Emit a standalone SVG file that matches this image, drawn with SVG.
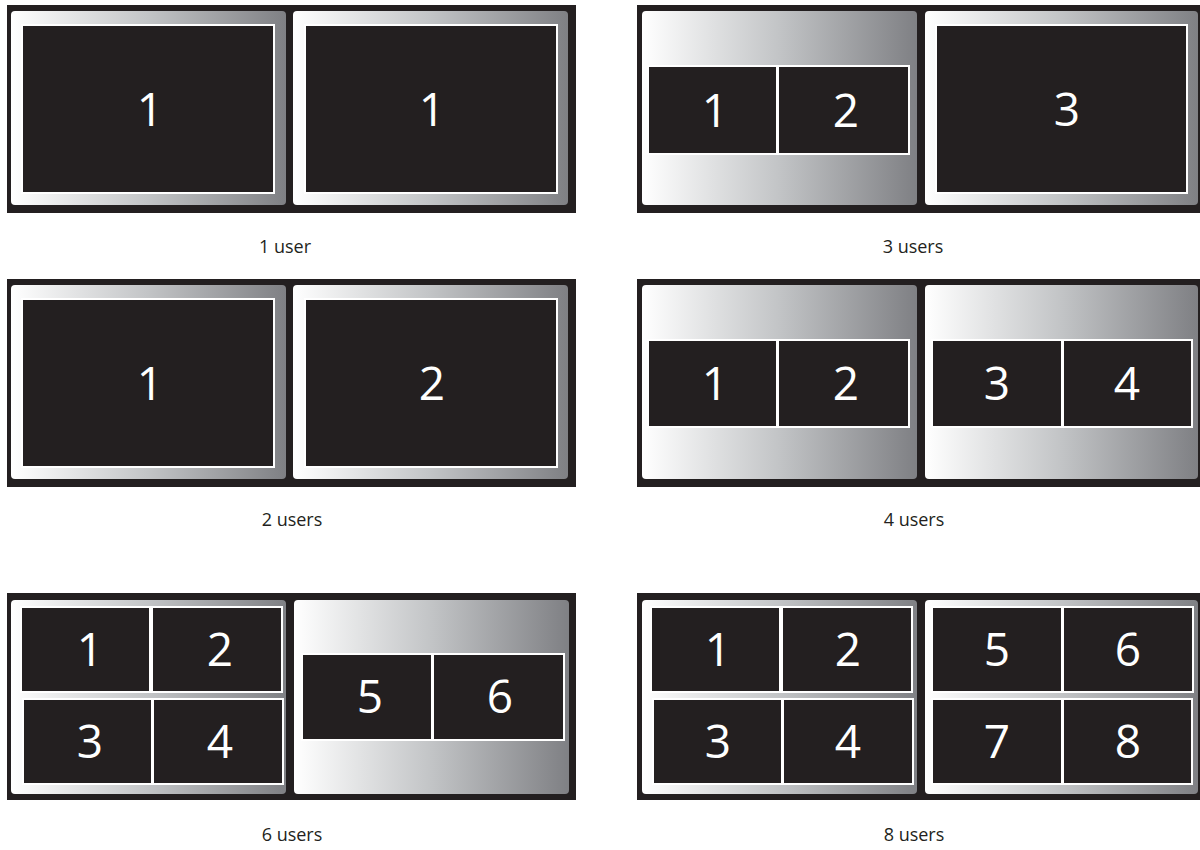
<svg xmlns="http://www.w3.org/2000/svg" width="1200" height="850" viewBox="0 0 1200 850">
<defs>
<linearGradient id="g" x1="0" y1="0" x2="1" y2="0">
<stop offset="0" stop-color="#ffffff"/>
<stop offset="0.5" stop-color="#c2c4c6"/>
<stop offset="1" stop-color="#7f8084"/>
</linearGradient>
<style>
.bg{fill:#231f20}
.mon{fill:url(#g)}
.scr{fill:#231f20;stroke:#ffffff;stroke-width:2}
.num{font-family:"Open Sans","Liberation Sans",sans-serif;font-size:46px;fill:#ffffff;text-anchor:middle}
.lbl{font-family:"Open Sans","Liberation Sans",sans-serif;font-size:18px;fill:#231f20;text-anchor:middle}
</style>
</defs>
<rect width="1200" height="850" fill="#ffffff"/>

<g id="panel-1-user">
<rect class="bg" x="7" y="5" width="569" height="208"/>
<rect class="mon" x="11" y="11" width="275" height="194" rx="4"/>
<rect class="scr" x="22" y="25" width="252" height="168"/>
<text class="num" x="150" y="126">1</text>
<rect class="mon" x="293" y="11" width="275" height="194" rx="4"/>
<rect class="scr" x="305" y="25" width="252" height="168"/>
<text class="num" x="432" y="126">1</text>
<text class="lbl" x="285" y="253">1 user</text>
</g>

<g id="panel-3-users">
<rect class="bg" x="637" y="5" width="563" height="208"/>
<rect class="mon" x="642" y="11" width="275" height="194" rx="4"/>
<rect class="scr" x="648" y="66" width="129" height="88"/>
<rect class="scr" x="778" y="66" width="131" height="88"/>
<text class="num" x="715" y="127">1</text>
<text class="num" x="846" y="127">2</text>
<rect class="mon" x="925" y="11" width="273" height="194" rx="4"/>
<rect class="scr" x="936" y="25" width="251" height="168"/>
<text class="num" x="1067" y="126">3</text>
<text class="lbl" x="913" y="253">3 users</text>
</g>

<g id="panel-2-users">
<rect class="bg" x="7" y="279" width="569" height="208"/>
<rect class="mon" x="11" y="285" width="275" height="194" rx="4"/>
<rect class="scr" x="22" y="299" width="252" height="168"/>
<text class="num" x="150" y="400">1</text>
<rect class="mon" x="293" y="285" width="275" height="194" rx="4"/>
<rect class="scr" x="305" y="299" width="252" height="168"/>
<text class="num" x="432" y="400">2</text>
<text class="lbl" x="292" y="526">2 users</text>
</g>

<g id="panel-4-users">
<rect class="bg" x="637" y="279" width="563" height="208"/>
<rect class="mon" x="642" y="285" width="275" height="194" rx="4"/>
<rect class="scr" x="648" y="340" width="129" height="87"/>
<rect class="scr" x="778" y="340" width="131" height="87"/>
<text class="num" x="715" y="400">1</text>
<text class="num" x="846" y="400">2</text>
<rect class="mon" x="925" y="285" width="273" height="194" rx="4"/>
<rect class="scr" x="932" y="340" width="130" height="87"/>
<rect class="scr" x="1063" y="340" width="129" height="87"/>
<text class="num" x="997" y="400">3</text>
<text class="num" x="1127" y="400">4</text>
<text class="lbl" x="914" y="526">4 users</text>
</g>

<g id="panel-6-users">
<rect class="bg" x="7" y="593" width="569" height="207"/>
<rect class="mon" x="11" y="600" width="275" height="194" rx="4"/>
<rect class="scr" x="21" y="607" width="129" height="85"/>
<rect class="scr" x="152" y="607" width="130" height="85"/>
<rect class="scr" x="23" y="699" width="129" height="85"/>
<rect class="scr" x="153" y="699" width="130" height="85"/>
<text class="num" x="90" y="666">1</text>
<text class="num" x="220" y="666">2</text>
<text class="num" x="90" y="758">3</text>
<text class="num" x="220" y="758">4</text>
<rect class="mon" x="294" y="600" width="275" height="194" rx="4"/>
<rect class="scr" x="302" y="654" width="130" height="86"/>
<rect class="scr" x="433" y="654" width="131" height="86"/>
<text class="num" x="370" y="713">5</text>
<text class="num" x="500" y="713">6</text>
<text class="lbl" x="292" y="841">6 users</text>
</g>

<g id="panel-8-users">
<rect class="bg" x="637" y="593" width="563" height="207"/>
<rect class="mon" x="642" y="600" width="275" height="194" rx="4"/>
<rect class="scr" x="651" y="607" width="129" height="85"/>
<rect class="scr" x="782" y="607" width="130" height="85"/>
<rect class="scr" x="653" y="699" width="129" height="85"/>
<rect class="scr" x="783" y="699" width="130" height="85"/>
<text class="num" x="718" y="666">1</text>
<text class="num" x="848" y="666">2</text>
<text class="num" x="718" y="758">3</text>
<text class="num" x="848" y="758">4</text>
<rect class="mon" x="925" y="600" width="273" height="194" rx="4"/>
<rect class="scr" x="932" y="607" width="130" height="85"/>
<rect class="scr" x="1063" y="607" width="130" height="85"/>
<rect class="scr" x="932" y="699" width="130" height="85"/>
<rect class="scr" x="1063" y="699" width="129" height="85"/>
<text class="num" x="997" y="666">5</text>
<text class="num" x="1128" y="666">6</text>
<text class="num" x="997" y="758">7</text>
<text class="num" x="1128" y="758">8</text>
<text class="lbl" x="914" y="841">8 users</text>
</g>
</svg>
